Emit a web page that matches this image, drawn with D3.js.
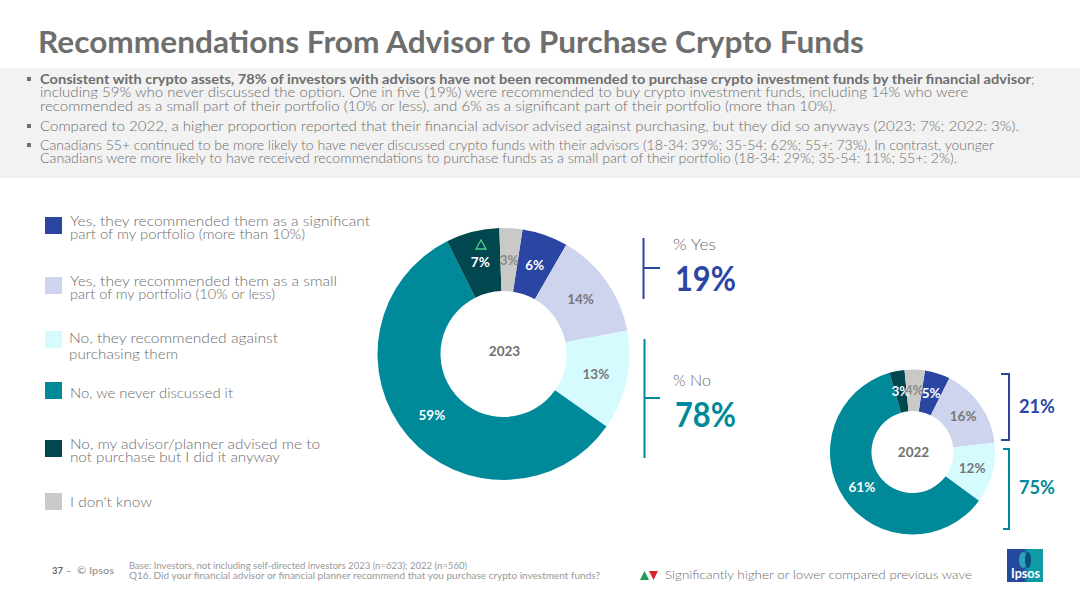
<!DOCTYPE html>
<html>
<head>
<meta charset="utf-8">
<script src="https://cdn.jsdelivr.net/npm/d3@7"></script>
<style>
  html, body { margin: 0; padding: 0; background: #fff; }
  svg { display: block; }
  text { font-family: Lato, "Open Sans", sans-serif; }
</style>
</head>
<body>
<script>
// data
const categories = [
  'Yes, they recommended them as a significant part of my portfolio (more than 10%)',
  'Yes, they recommended them as a small part of my portfolio (10% or less)',
  'No, they recommended against purchasing them',
  'No, we never discussed it',
  'No, my advisor/planner advised me to not purchase but I did it anyway',
  "I don't know"
]
const values2023 = [6, 14, 13, 59, 7, 3]
const values2022 = [5, 16, 12, 61, 3, 4]
const colors = ['#2b45a3', '#ced3ee', '#d6fbff', '#008a99', '#00474f', '#c9c9c7']
const labelColors = ['#fff', '#777', '#777', '#fff', '#fff', '#8a8a8a']

const WIDTH = 1080
const HEIGHT = 607
const GREY = '#6c6c6c'
const BLUE = '#2b45a3'
const TEAL = '#008a99'
const LIGHT = 300 // thinner strokes look closer to the slide font
const START = 8.7 * Math.PI / 180 // the first slice does not start at 12 o'clock

const svg = d3.select('body').append('svg').attr('width', WIDTH).attr('height', HEIGHT)

// text is squeezed to the width measured on the slide, the original font is not installed
function txt(str, x, y, size, fill, weight, width, anchor) {
  const t = svg.append('text')
    .attr('x', x).attr('y', y)
    .attr('font-size', size)
    .attr('fill', fill)
    .attr('font-weight', weight || 400)
    .attr('text-anchor', anchor || 'start')
    .text(str)
  if (width) t.attr('textLength', width).attr('lengthAdjust', 'spacingAndGlyphs')
  return t
}

// title and grey band
txt('Recommendations From Advisor to Purchase Crypto Funds', 38, 53, 30, '#6e6e6e', 700, 826)
svg.append('rect').attr('x', 0).attr('y', 68).attr('width', WIDTH).attr('height', 110).attr('fill', '#f2f2f2')

txt('Consistent with crypto assets, 78% of investors with advisors have not been recommended to purchase crypto investment funds by their financial advisor', 40, 84, 13.5, '#6e6e6e', 700, 991)
txt(';', 1031, 84, 13.5, GREY, LIGHT)
const bulletLines = [
  ['including 59% who never discussed the option. One in five (19%) were recommended to buy crypto investment funds, including 14% who were', 97, 928],
  ['recommended as a small part of their portfolio (10% or less), and 6% as a significant part of their portfolio (more than 10%).', 111, 796],
  ['Compared to 2022, a higher proportion reported that their financial advisor advised against purchasing, but they did so anyways (2023: 7%; 2022: 3%).', 131, 979],
  ['Canadians 55+ continued to be more likely to have never discussed crypto funds with their advisors (18-34: 39%; 35-54: 62%; 55+: 73%). In contrast, younger', 150, 954],
  ['Canadians were more likely to have received recommendations to purchase funds as a small part of their portfolio (18-34: 29%; 35-54: 11%; 55+: 2%).', 163, 917]
]
bulletLines.forEach(l => txt(l[0], 40, l[1], 13.5, GREY, LIGHT, l[2]))
;[84, 131, 150].forEach(y => {
  svg.append('rect').attr('x', 27).attr('y', y - 7).attr('width', 4).attr('height', 4).attr('fill', '#6e6e6e')
})

// legend
const legendBoxY = [217, 277, 331, 382, 440, 493]
const legendLines = [
  [['Yes, they recommended them as a significant', 70, 226, 300], ['part of my portfolio (more than 10%)', 70, 239, 235]],
  [['Yes, they recommended them as a small', 70, 286, 267], ['part of my portfolio (10% or less)', 70, 299, 205]],
  [['No, they recommended against', 69, 343, 209], ['purchasing them', 69, 359, 109]],
  [['No, we never discussed it', 70, 398, 163]],
  [['No, my advisor/planner advised me to', 70, 449, 250], ['not purchase but I did it anyway', 70, 462, 210]],
  [["I don't know", 70, 507, 82]]
]
svg.append('g').selectAll('rect')
  .data(categories)
  .enter()
  .append('rect')
  .attr('x', 45)
  .attr('y', (d, i) => legendBoxY[i])
  .attr('width', 17)
  .attr('height', 17)
  .attr('fill', (d, i) => colors[i])
legendLines.forEach(ls => ls.forEach(l => txt(l[0], l[1], l[2], 14.5, GREY, LIGHT, l[3])))

// donuts
function donut(values, cx, cy, outer, inner, year, yearY) {
  const size = 13.5
  const pie = d3.pie().sort(null).startAngle(START).endAngle(START + 2 * Math.PI)
  const arc = d3.arc().innerRadius(inner).outerRadius(outer)
  const g = svg.append('g').attr('transform', `translate(${cx}, ${cy})`)
  const arcs = pie(values)
  g.selectAll('path')
    .data(arcs)
    .enter()
    .append('path')
    .attr('d', arc)
    .attr('fill', (d, i) => colors[i])
  g.selectAll('text.pct')
    .data(arcs)
    .enter()
    .append('text')
    .attr('class', 'pct')
    .attr('x', d => arc.centroid(d)[0])
    .attr('y', d => arc.centroid(d)[1] + size * 0.36)
    .attr('text-anchor', 'middle')
    .attr('font-size', size)
    .attr('font-weight', 700)
    .attr('fill', (d, i) => labelColors[i])
    .text(d => d.data + '%')
  g.append('text')
    .attr('x', 1)
    .attr('y', yearY)
    .attr('text-anchor', 'middle')
    .attr('font-size', size)
    .attr('font-weight', 700)
    .attr('fill', '#6f6f6f')
    .text(year)
}
donut(values2023, 503.5, 354, 126, 63, '2023', 2)
donut(values2022, 912.5, 452, 82.5, 41, '2022', 5)

// significance marker on the 7% slice
svg.append('path').attr('d', 'M481 240 L486 249 L476 249 Z')
  .attr('fill', 'none').attr('stroke', '#4fd08f').attr('stroke-width', 1.3)

// 2023 brackets
function line(pts, color, w) {
  svg.append('path').attr('d', d3.line()(pts)).attr('fill', 'none').attr('stroke', color).attr('stroke-width', w)
}
line([[643.5, 238], [643.5, 299]], BLUE, 2)
line([[643.5, 268], [660, 268]], BLUE, 2)
line([[644.5, 339], [644.5, 458]], TEAL, 2)
line([[644.5, 398], [660, 398]], TEAL, 2)
txt('% Yes', 673, 250, 15.5, GREY, LIGHT, 43)
txt('19%', 675, 291, 35, BLUE, 700, 61)
txt('% No', 673, 386, 15.5, GREY, LIGHT, 38)
txt('78%', 675, 427, 35, TEAL, 700, 61)

// 2022 brackets
line([[1001, 374], [1009, 374], [1009, 440], [1001, 440]], BLUE, 2)
line([[1003, 449], [1009, 449], [1009, 529], [1003, 529]], TEAL, 2)
txt('21%', 1019, 413, 19.5, BLUE, 700, 36)
txt('75%', 1019, 494, 19.5, TEAL, 700, 36)

// footer
txt('37', 52, 574, 9.5, '#666', 700, 11)
txt('–', 66, 574, 9.5, '#888')
txt('© Ipsos', 77, 574, 9.5, '#888', 400, 37)
txt('Base: Investors, not including self-directed investors 2023 (n=623); 2022 (n=560)', 129, 569, 8.5, '#999', 400, 338)
txt('Q16. Did your financial advisor or financial planner recommend that you purchase crypto investment funds?', 129, 579, 8.5, '#999', 400, 471)
svg.append('path').attr('d', 'M640 580 L649 580 L644.5 571 Z').attr('fill', '#1f9d55')
svg.append('path').attr('d', 'M649 571 L658 571 L653.5 580 Z').attr('fill', '#d9232e')
txt('Significantly higher or lower compared previous wave', 665, 579, 12.5, GREY, LIGHT, 307)

// Ipsos logo
const logoGrad = svg.append('defs').append('linearGradient').attr('id', 'logoGrad')
logoGrad.append('stop').attr('offset', '45%').attr('stop-color', '#24489d')
logoGrad.append('stop').attr('offset', '60%').attr('stop-color', '#0f9aa5')
svg.append('rect').attr('x', 1007).attr('y', 549).attr('width', 36).attr('height', 33).attr('fill', 'url(#logoGrad)')
svg.append('ellipse').attr('cx', 1023).attr('cy', 560).attr('rx', 4).attr('ry', 8).attr('fill', '#2f9fc0')
svg.append('ellipse').attr('cx', 1028).attr('cy', 560).attr('rx', 3).attr('ry', 8).attr('fill', '#0b4f78')
txt('Ipsos', 1011, 578, 12.5, '#fff', 700, 29)
</script>
</body>
</html>
